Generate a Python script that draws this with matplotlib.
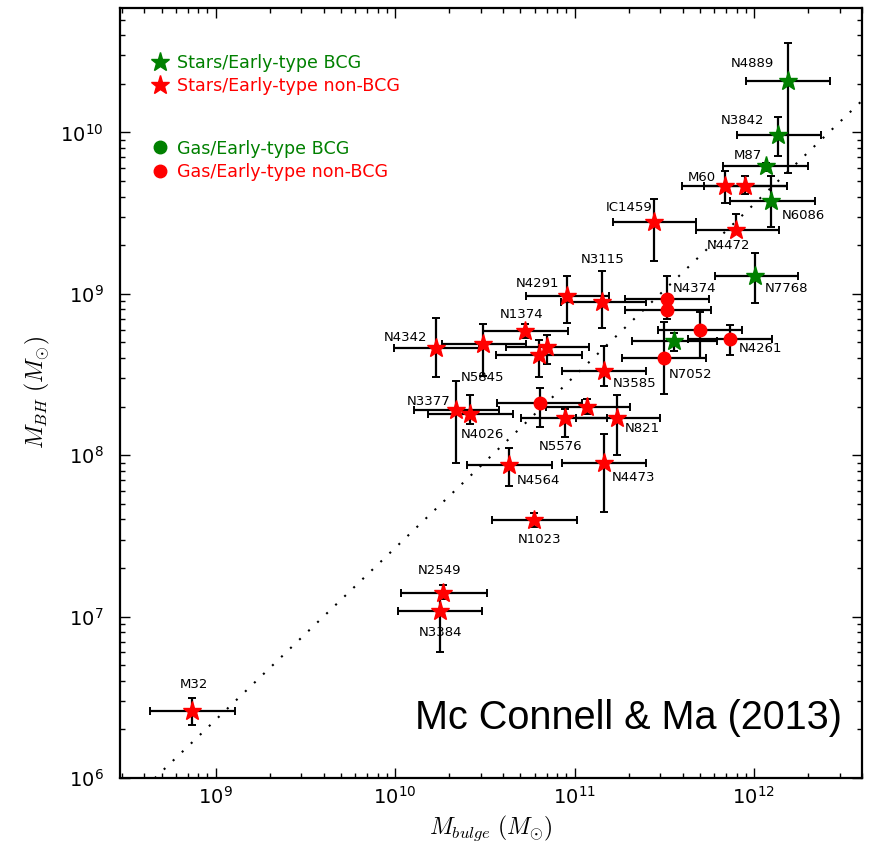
import numpy as np
import matplotlib
matplotlib.use("Agg")
import matplotlib.pyplot as plt
from matplotlib.lines import Line2D

plt.rcParams['font.family'] = 'DejaVu Sans'

GREEN = '#008000'
RED = '#ff0000'

# ---------------------------------------------------------------
# data read off the figure : M_bulge (x) and M_BH (y), with ranges
# ---------------------------------------------------------------
# stars / early-type BCG
bcg_names = ["N4889", "N3842", "M87", "N6086", "N7768", ""]
bcg_x   = [1.55e12, 1.36e12, 1.16e12, 1.25e12, 1.02e12, 3.58e11]
bcg_xlo = [9.0e11, 8.0e11, 6.7e11, 7.4e11, 6.05e11, 2.08e11]
bcg_xhi = [2.64e12, 2.36e12, 2.0e12, 2.18e12, 1.76e12, 6.2e11]
bcg_y   = [2.08e10, 9.6e9, 6.2e9, 3.78e9, 1.29e9, 5.1e8]
bcg_ylo = [5.6e9, 7.1e9, 5.8e9, 2.58e9, 8.8e8, 4.4e8]
bcg_yhi = [3.6e10, 1.24e10, 6.5e9, 5.4e9, 1.79e9, 5.7e8]

# stars / early-type non-BCG
st_names = ["M60", "", "N4472", "IC1459", "N4291", "N3115", "N1374", "N4342",
            "N5845", "", "", "N3585", "N3377", "N4026", "", "N5576", "N821",
            "N4564", "N4473", "N1023", "N2549", "N3384", "M32"]
st_x   = [6.9e11, 8.9e11, 7.9e11, 2.77e11, 9.1e10, 1.43e11, 5.3e10, 1.69e10,
          3.1e10, 7.06e10, 6.3e10, 1.46e11, 2.18e10, 2.62e10, 1.18e11, 8.8e10, 1.73e11,
          4.3e10, 1.46e11, 5.96e10, 1.84e10, 1.78e10, 7.4e8]
st_xlo = [3.98e11, 5.26e11, 4.73e11, 1.63e11, 5.35e10, 8.4e10, 3.1e10, 9.8e9,
          1.82e10, 4.15e10, 3.66e10, 8.5e10, 1.27e10, 1.52e10, 6.9e10, 5.06e10, 1.02e11,
          2.52e10, 8.55e10, 3.49e10, 1.08e10, 1.04e10, 4.3e8]
st_xhi = [1.52e12, 1.52e12, 1.38e12, 4.77e11, 1.56e11, 2.49e11, 9.2e10, 2.94e10,
          5.4e10, 1.2e11, 1.1e11, 2.5e11, 3.78e10, 4.55e10, 2.03e11, 1.52e11, 3.0e11,
          7.45e10, 2.5e11, 1.03e11, 3.26e10, 3.06e10, 1.29e9]
st_y   = [4.64e9, 4.64e9, 2.5e9, 2.78e9, 9.7e8, 8.9e8, 5.9e8, 4.6e8,
          4.87e8, 4.69e8, 4.18e8, 3.33e8, 1.9e8, 1.79e8, 1.99e8, 1.69e8, 1.69e8,
          8.75e7, 8.96e7, 3.99e7, 1.4e7, 1.08e7, 2.59e6]
st_ylo = [3.66e9, 4.16e9, 2.4e9, 1.6e9, 6.6e8, 6.1e8, 5.3e8, 3.05e8,
          3.1e8, 3.69e8, 3.05e8, 2.69e8, 8.9e7, 1.56e8, 1.8e8, 1.29e8, 1.0e8,
          6.4e7, 4.45e7, 3.57e7, 1.28e7, 6.07e6, 2.12e6]
st_yhi = [5.75e9, 5.33e9, 3.1e9, 3.86e9, 1.28e9, 1.38e9, 6.5e8, 7.1e8,
          6.5e8, 5.56e8, 5.2e8, 4.75e8, 2.88e8, 2.36e8, 2.23e8, 1.93e8, 2.36e8,
          1.11e8, 1.35e8, 4.38e7, 1.58e7, 1.43e7, 3.11e6]

# gas / early-type non-BCG
gas_names = ["N4374", "", "", "N4261", "N7052", ""]
gas_x   = [3.29e11, 3.29e11, 5.0e11, 7.35e11, 3.15e11, 6.43e10]
gas_xlo = [1.91e11, 1.91e11, 2.93e11, 4.3e11, 1.85e11, 3.72e10]
gas_xhi = [5.61e11, 5.73e11, 8.6e11, 1.26e12, 5.42e11, 1.1e11]
gas_y   = [9.27e8, 7.9e8, 5.97e8, 5.27e8, 3.99e8, 2.09e8]
gas_ylo = [7.6e8, 7.0e8, 4.02e8, 4.2e8, 2.38e8, 1.5e8]
gas_yhi = [1.29e9, 9.1e8, 7.73e8, 6.4e8, 6.73e8, 2.6e8]

# fitted relation as drawn : log M_BH = a + b log(M_bulge / 1e11)
fit_a, fit_b = 8.49, 1.065

# where the name goes, in pixels from the point
label_off = {
    "N4889": (-36, 18), "N3842": (-35, 15), "M87": (-18, 10), "N6086": (32, -15),
    "N7768": (31, -13), "M60": (-23, 9), "N4472": (-7, -16), "IC1459": (-25, 15),
    "N4291": (-30, 12), "N3115": (0, 42), "N1374": (-3, 16), "N4342": (-30, 11),
    "N5845": (-1, -33), "N3585": (31, -13), "N3377": (-27, 9), "N4026": (12, -20),
    "N5576": (-4, -28), "N821": (25, -10), "N4564": (30, -16), "N4473": (29, -15),
    "N1023": (5, -20), "N2549": (-3, 22), "N3384": (0, -21), "M32": (2, 27),
    "N4374": (27, 11), "N4261": (31, -10), "N7052": (27, -16),
}

fig = plt.figure(figsize=(8.72, 8.55), dpi=100)
ax = fig.add_axes([0.1376, 0.0901, 0.8509, 0.9006])
ax.set_xscale('log')
ax.set_yscale('log')


def draw(names, x, xlo, xhi, y, ylo, yhi, marker, color, ms):
    x, xlo, xhi = np.array(x), np.array(xlo), np.array(xhi)
    y, ylo, yhi = np.array(y), np.array(ylo), np.array(yhi)
    ax.errorbar(x, y, xerr=[x - xlo, xhi - x], yerr=[y - ylo, yhi - y], fmt='none',
                ecolor='k', elinewidth=1.6, capsize=3, capthick=1.4, zorder=2)
    ax.plot(x, y, ls='none', marker=marker, color=color, mec=color, ms=ms, zorder=3)
    for n, xx, yy in zip(names, x, y):
        if n:
            ax.annotate(n, (xx, yy), xytext=label_off[n], textcoords='offset pixels',
                        ha='center', va='center', fontsize=9.5, color='k', zorder=4)


xf = np.logspace(8, 13, 200)
ax.plot(xf, 10 ** (fit_a + fit_b * np.log10(xf / 1e11)), color='k', lw=1.5,
        ls=(0, (1, 5)), zorder=1)

draw(gas_names, gas_x, gas_xlo, gas_xhi, gas_y, gas_ylo, gas_yhi, 'o', RED, 9)
draw(st_names, st_x, st_xlo, st_xhi, st_y, st_ylo, st_yhi, '*', RED, 14)
draw(bcg_names, bcg_x, bcg_xlo, bcg_xhi, bcg_y, bcg_ylo, bcg_yhi, '*', GREEN, 14)

ax.set_xlim(2.93e8, 4.0e12)
ax.set_ylim(1e6, 5.9e10)

# legends
h1 = [Line2D([], [], ls='none', marker='*', color=GREEN, ms=14, label='Stars/Early-type BCG'),
      Line2D([], [], ls='none', marker='*', color=RED, ms=14, label='Stars/Early-type non-BCG')]
h2 = [Line2D([], [], ls='none', marker='o', color=GREEN, ms=9, label='Gas/Early-type BCG'),
      Line2D([], [], ls='none', marker='o', color=RED, ms=9, label='Gas/Early-type non-BCG')]
leg_kw = dict(loc='upper left', frameon=False, fontsize=12.6, handlelength=0.9,
              handletextpad=0.55, labelspacing=0.3, labelcolor='markerfacecolor',
              borderaxespad=0, borderpad=0)
leg1 = ax.legend(handles=h1, bbox_to_anchor=(0.043, 0.940), **leg_kw)
ax.add_artist(leg1)
ax.legend(handles=h2, bbox_to_anchor=(0.043, 0.829), **leg_kw)

ax.text(0.973, 0.078, 'Mc Connell & Ma (2013)', transform=ax.transAxes, ha='right',
        va='center', fontsize=28.5, family='Liberation Sans')

ax.set_xlabel(r'$M_{bulge}\ (M_{\odot})$', fontsize=17, math_fontfamily='cm', labelpad=4)
ax.set_ylabel(r'$M_{BH}\ (M_{\odot})$', fontsize=17, math_fontfamily='cm', labelpad=6)

ax.tick_params(which='both', direction='in', top=True, right=True)
ax.tick_params(which='major', length=7, width=1, labelsize=14)
ax.tick_params(which='minor', length=3.5, width=1)
ax.tick_params(axis='x', pad=6)
ax.tick_params(axis='y', pad=12)
for s in ax.spines.values():
    s.set_linewidth(1.6)

fig.savefig('out.png', dpi=100)
